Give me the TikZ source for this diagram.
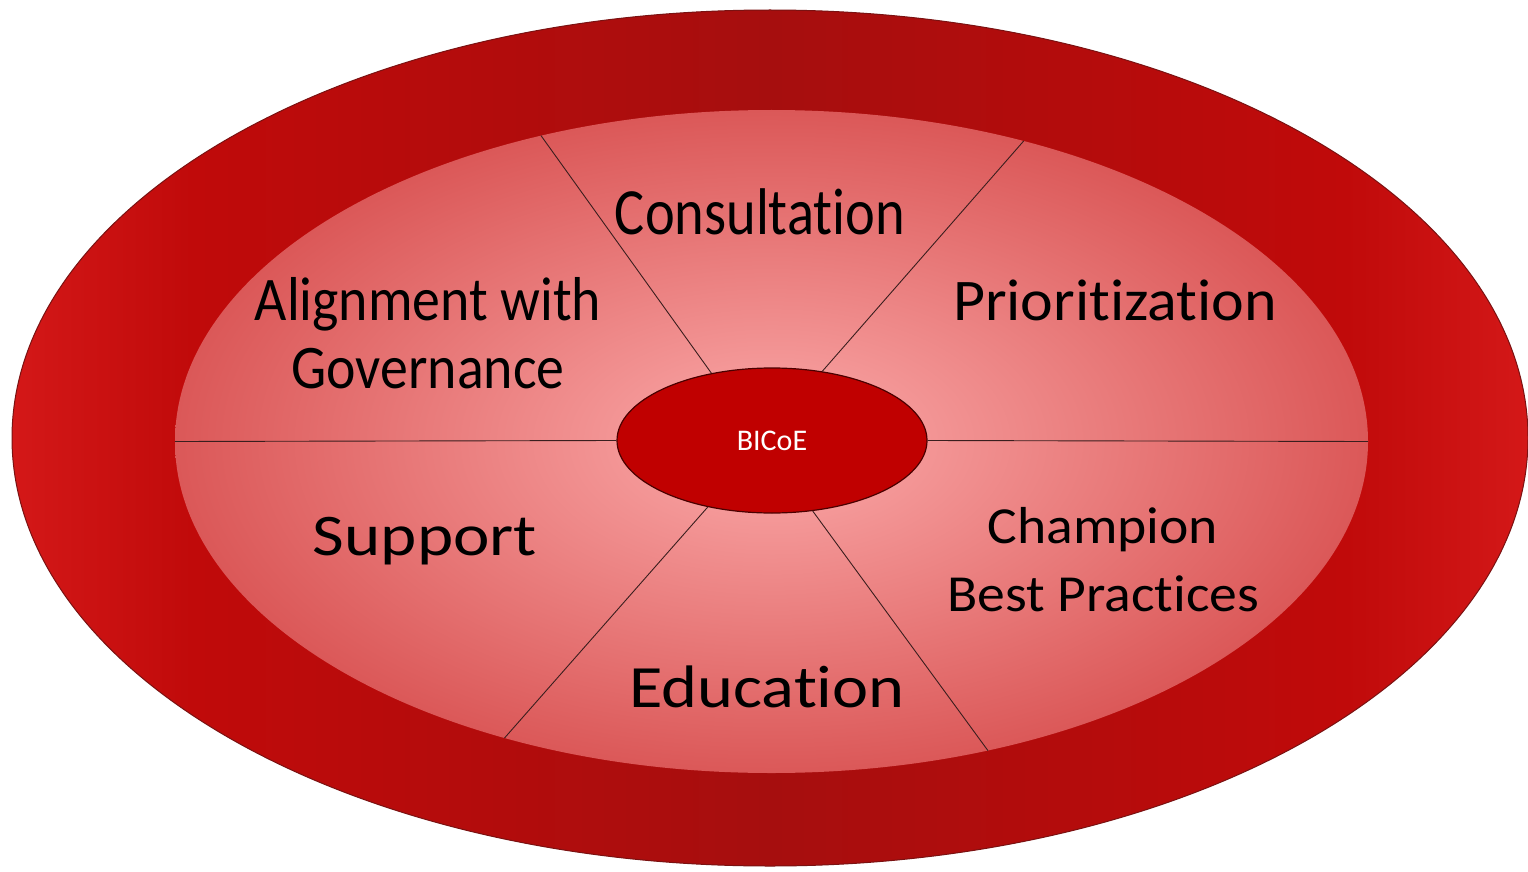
\documentclass[tikz,border=0pt]{standalone}
\usepackage{fontspec}
\setmainfont{Carlito}[Ligatures=NoCommon]
\usetikzlibrary{shapes.geometric}
\definecolor{rimdark}{HTML}{A60E0E}
\definecolor{rimmid}{HTML}{C00A0A}
\definecolor{rimlight}{HTML}{D41818}
\definecolor{rimedge}{HTML}{7A1212}
\definecolor{pinkin}{HTML}{F59A9A}
\definecolor{pinkout}{HTML}{DB5858}
\definecolor{hubred}{HTML}{C00000}
\definecolor{hubedge}{HTML}{4A0000}
\definecolor{spokegray}{HTML}{3A1E1E}
\pgfdeclarehorizontalshading{ringshade}{100bp}{color(0bp)=(rimlight); color(25bp)=(rimlight); color(31bp)=(rimmid); color(50bp)=(rimdark); color(69bp)=(rimmid); color(75bp)=(rimlight); color(100bp)=(rimlight)}
\pgfdeclareradialshading{fieldshade}{\pgfpoint{0bp}{0bp}}{color(0bp)=(pinkin); color(5bp)=(pinkin); color(25bp)=(pinkout); color(50bp)=(pinkout)}
\tikzstyle{rim} = [ellipse, draw=rimedge, line width=1pt, shading=ringshade, minimum width=1516pt, minimum height=856pt, inner sep=0pt]
\tikzstyle{field} = [ellipse, shading=fieldshade, minimum width=1193pt, minimum height=663pt, inner sep=0pt]
\tikzstyle{hub} = [ellipse, draw=hubedge, line width=1.2pt, fill=hubred, text=white, minimum width=310pt, minimum height=145pt, inner sep=0pt, font=\fontsize{30}{36}\selectfont]
\tikzstyle{spoke} = [draw=spokegray, line width=0.9pt]
\tikzstyle{area} = [anchor=base, align=center, text=black, inner sep=0pt]

\begin{document}
\begin{tikzpicture}[x=1pt, y=-1pt]
\useasboundingbox (0,0) rectangle (1528,872);

\node[rim] (rim) at (770,438) {};
\node[field] (field) at (771.5,441.5) {};
\node[hub] (hub) at (772,440.5) {BICoE};

\draw[spoke] (field.west) -- (hub.west);
\draw[spoke] (hub.east) -- (field.east);
\draw[spoke] (hub.132) -- (field.127);
\draw[spoke] (hub.54) -- (field.50);
\draw[spoke] (hub.226) -- (field.228);
\draw[spoke] (hub.300) -- (field.305);

% base of a two-line label is its last line
\node[area, xscale=0.855, font=\fontsize{66}{68}\selectfont] (consult) at (760,234) {Consultation};
\node[area, xscale=0.9, font=\fontsize{62}{68}\selectfont] (govern) at (428,388) {Alignment with\\Governance};
\node[area, xscale=1.05, font=\fontsize{59}{68}\selectfont] (prior) at (1115,320) {Prioritization};
\node[area, xscale=1.17, font=\fontsize{59}{68}\selectfont] (support) at (425,555) {Support};
\node[area, xscale=1.07, font=\fontsize{52}{68}\selectfont] (champ) at (1103,611) {Champion\\Best Practices};
\node[area, xscale=1.14, font=\fontsize{60}{68}\selectfont] (educ) at (767,707) {Education};
\end{tikzpicture}
\end{document}
